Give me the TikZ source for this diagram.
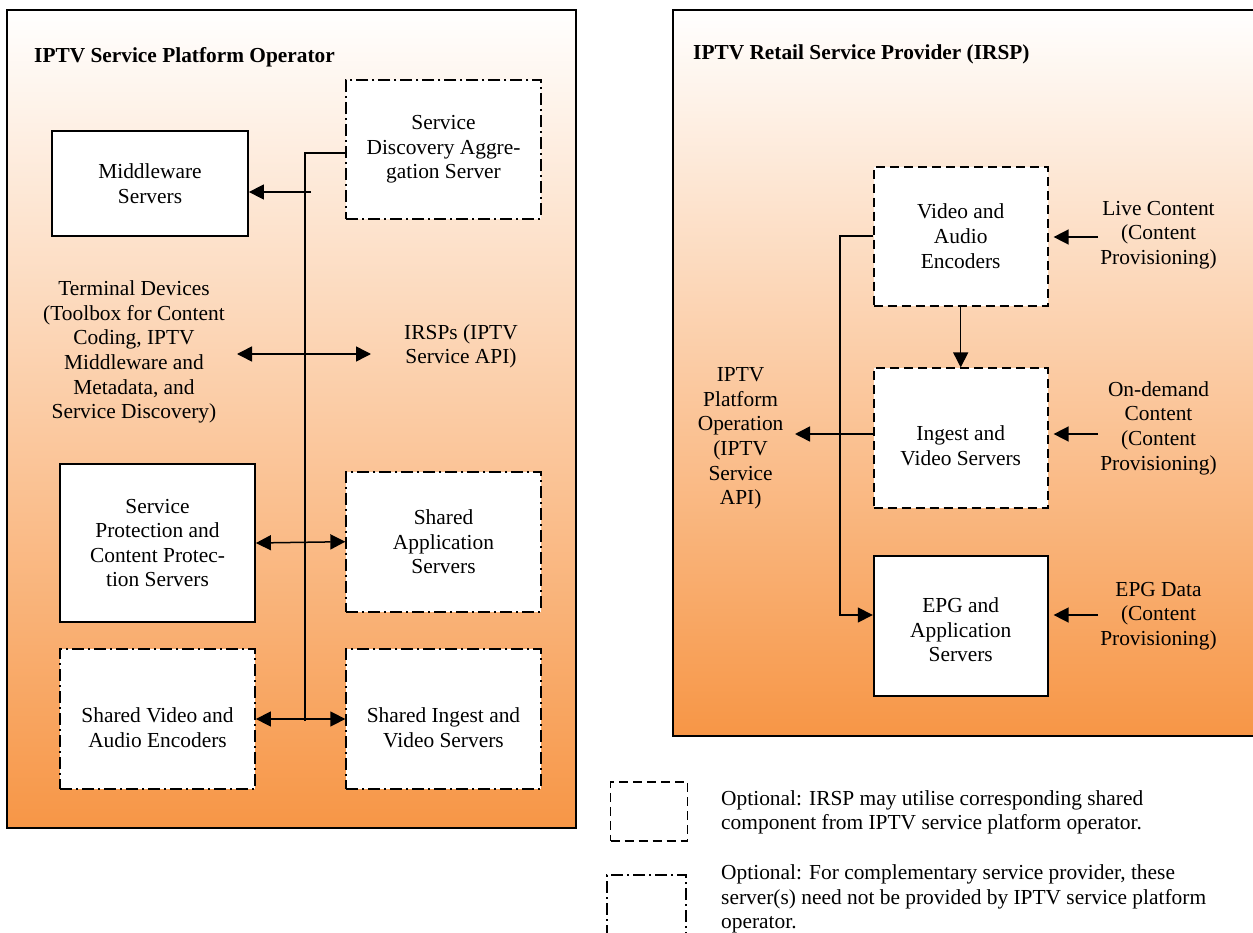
\documentclass[tikz,border=0pt]{standalone}
\usepackage{fontspec}
\setmainfont{Liberation Serif}
\usetikzlibrary{arrows.meta,calc}
\definecolor{orng}{RGB}{247,150,70}
\begin{document}
\begin{tikzpicture}[x=1pt,y=-1pt,
  txt/.style={align=center, font=\fontsize{21.4}{24.6}\selectfont, inner sep=0pt},
  ltxt/.style={align=left, anchor=west, font=\fontsize{21.4}{24.2}\selectfont, inner sep=0pt},
  box/.style={draw, line width=1.8pt, fill=white, inner sep=0pt, align=center, font=\fontsize{21.4}{24.6}\selectfont},
  ddbox/.style={box, dash pattern=on 12pt off 4pt on 2pt off 4pt},
  dsbox/.style={box, dash pattern=on 9pt off 5pt},
  con/.style={line width=1.5pt},
  arr/.style={con, -{Triangle[length=15pt,width=15pt]}},
  darr/.style={con, {Triangle[length=15pt,width=15pt]}-{Triangle[length=15pt,width=15pt]}},
  ttl/.style={font=\fontsize{21.35}{26}\selectfont\bfseries, anchor=base west, inner sep=0pt}]

\useasboundingbox (0,0) rectangle (1253,933);
\fill[white] (0,0) rectangle (1253,933);

% panels
\shade[top color=white, bottom color=orng] (7,10) rectangle (576,828);
\draw[line width=1.5pt] (7,10) rectangle (576,828);
\shade[top color=white, bottom color=orng] (673,10) rectangle (1258,736);
\draw[line width=1.5pt] (673,10) rectangle (1258,736);

\node[ttl] (t1) at (34,63) {IPTV Service Platform Operator};
\node[ttl] (t2) at (693,60) {IPTV Retail Service Provider (IRSP)};

% left panel boxes
\node[box, minimum width=196pt, minimum height=105pt] (mw) at (150,183.5) {Middleware\\Servers};
\node[ddbox, minimum width=194.5pt, minimum height=139pt] (sda) at (443.5,149.5) {Service\\Discovery Aggre-\\gation Server};
\node[box, minimum width=195pt, minimum height=158pt] (sp) at (157.5,543) {Service\\Protection and\\Content Protec-\\tion Servers};
\node[ddbox, minimum width=194.5pt, minimum height=140pt] (sa) at (443.5,541.7) {Shared\\Application\\Servers};
\node[ddbox, minimum width=195pt, minimum height=140pt] (sv) at (157.5,719) {};
\node[ddbox, minimum width=194.5pt, minimum height=140pt] (si) at (443.5,719) {};
\node[txt] (svt) at (157.5,727.5) {Shared Video and\\Audio Encoders};
\node[txt] (sit) at (443.5,727.5) {Shared Ingest and\\Video Servers};

\node[txt] (term) at (134,352) {Terminal Devices\\(Toolbox for Content\\Coding, IPTV\\Middleware and\\Metadata, and\\Service Discovery)};
\node[txt] (irsps) at (461,346.5) {IRSPs (IPTV\\Service API)};

% left connectors
\coordinate (bustop) at (305,153);
\coordinate (busbot) at (305,721);
\draw[con] (sda.west |- bustop) -- (bustop) -- (busbot);
\coordinate (mwstub) at (311,192);
\draw[arr] (mwstub) -- (mw.east |- mwstub);
\coordinate (tl) at (237,354);
\coordinate (tr) at (371,354);
\draw[darr] (tl) -- (tr);
\draw[darr] (sp.east) -- (sa.west);
\draw[darr] (sv.east) -- (si.west);

% right panel boxes
\node[dsbox, minimum width=174pt, minimum height=139pt] (vae) at (960.7,236.2) {Video and\\Audio\\Encoders};
\node[dsbox, minimum width=174pt, minimum height=139.4pt] (ing) at (960.7,438) {};
\node[txt] (ingt) at (960.7,446) {Ingest and\\Video Servers};
\node[box, minimum width=174pt, minimum height=140pt] (epg) at (960.7,626) {};
\node[txt] (epgt) at (960.7,630) {EPG and\\Application\\Servers};

\node[txt] (ipo) at (740.6,438.5) {IPTV\\Platform\\Operation\\(IPTV\\Service\\API)};
\node[txt] (live) at (1158.5,235) {Live Content\\(Content\\Provisioning)};
\node[txt] (ond) at (1158.5,428) {On-demand\\Content\\(Content\\Provisioning)};
\node[txt] (epgd) at (1158.5,616) {EPG Data\\(Content\\Provisioning)};

% right connectors
\draw[arr] (vae.south) -- (ing.north);
\coordinate (corner) at (840,615);
\draw[arr] (vae.west) -| (corner) -- (epg.west |- corner);
\coordinate (ipotip) at (795,434);
\draw[arr] (ing.west |- ipotip) -- (ipotip);
\coordinate (livetail) at (1098,237);
\coordinate (ondtail) at (1098,434);
\coordinate (epgtail) at (1098,615);
\draw[arr] (livetail) -- ($(vae.east |- livetail)+(5,0)$);
\draw[arr] (ondtail) -- ($(ing.east |- ondtail)+(5,0)$);
\draw[arr] (epgtail) -- ($(epg.east |- epgtail)+(5,0)$);

% legend
\node[dsbox, minimum width=77pt, minimum height=59pt] (leg1) at (649,811.3) {};
\node[ddbox, minimum width=79pt, minimum height=100pt] (leg2) at (646.5,925) {};
\node[ltxt] (leg1t) at (721,812) {Optional: IRSP may utilise corresponding shared\\component from IPTV service platform operator.};
\node[ltxt] (leg2t) at (721,899) {Optional: For complementary service provider, these\\server(s) need not be provided by IPTV service platform\\operator.};
\end{tikzpicture}
\end{document}
